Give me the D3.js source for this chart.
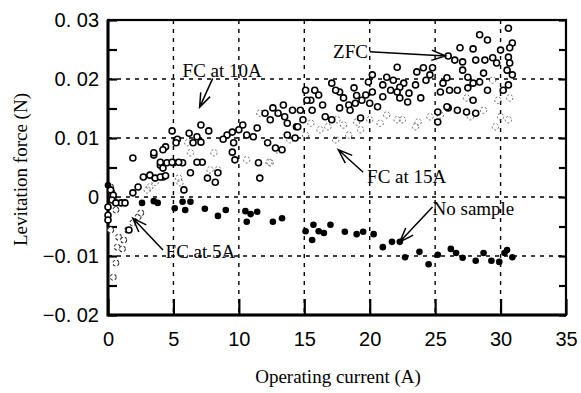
<!DOCTYPE html>
<html>
<head>
<meta charset="utf-8">
<script src="https://cdn.jsdelivr.net/npm/d3@7/dist/d3.min.js"></script>
<style>
  body { margin: 0; background: #fff; }
  .tick-label { font-family: "Liberation Sans", Arial, sans-serif; font-size: 20px; fill: #000; }
  .title { font-family: "Liberation Serif", "Times New Roman", serif; font-size: 19px; fill: #000; }
  .note { font-family: "Liberation Serif", "Times New Roman", serif; font-size: 19px; fill: #000; }
</style>
</head>
<body>
<svg id="chart" width="581" height="393"></svg>
<script>
// axis ticks
const xTicks = [0, 5, 10, 15, 20, 25, 30, 35];
const yTicks = [-0.02, -0.01, 0, 0.01, 0.02, 0.03];
const yMinor = [-0.015, -0.005, 0.005, 0.015, 0.025];

// [current (A), force (N)]
const zfc = [
  [30.6, 0.0286], [28.4, 0.0275], [29.0, 0.0266], [30.9, 0.0261], [30.7, 0.0253], [30.0, 0.0249],
  [27.9, 0.0251], [26.9, 0.0253], [26.0, 0.0239], [26.5, 0.0232], [27.1, 0.0229], [27.1, 0.0215],
  [27.5, 0.0203], [28.1, 0.0232], [28.8, 0.0232], [29.4, 0.0236], [29.7, 0.0227], [28.7, 0.0210],
  [28.4, 0.0195], [27.9, 0.0193], [29.0, 0.0181], [30.6, 0.0237], [30.7, 0.0227], [30.5, 0.0215],
  [30.9, 0.0207], [30.6, 0.0190], [30.2, 0.0181], [25.9, 0.0202], [25.6, 0.0193], [25.4, 0.0178],
  [26.1, 0.0181], [26.7, 0.0181], [27.5, 0.0185], [27.9, 0.0164], [24.8, 0.0219], [24.6, 0.0207],
  [24.1, 0.0219], [23.6, 0.0212], [23.5, 0.0190], [22.6, 0.0193], [22.3, 0.0186], [22.1, 0.0178],
  [21.8, 0.0198], [21.3, 0.0203], [21.6, 0.0181], [22.3, 0.0168], [22.1, 0.0220], [21.0, 0.0190],
  [20.2, 0.0207], [19.9, 0.0195], [20.2, 0.0178], [19.7, 0.0173], [19.4, 0.0164], [18.9, 0.0159],
  [18.4, 0.0156], [18.0, 0.0168], [17.7, 0.0178], [17.4, 0.0181], [17.1, 0.0193], [15.8, 0.0181],
  [15.5, 0.0164], [15.2, 0.0164], [16.6, 0.0136], [17.1, 0.0131], [17.7, 0.0151], [18.5, 0.0147],
  [19.3, 0.0134], [20.0, 0.0159], [20.6, 0.0153], [22.9, 0.0161], [23.9, 0.0168], [25.2, 0.0144],
  [26.0, 0.0151], [26.7, 0.0147], [27.4, 0.0144], [28.1, 0.0142], [25.2, 0.0127], [25.9, 0.0153],
  [14.7, 0.0147], [14.9, 0.0131], [14.5, 0.0119], [15.1, 0.0181], [16.1, 0.0173], [16.4, 0.0156],
  [15.6, 0.0147], [18.8, 0.0185], [19.0, 0.0172], [21.0, 0.0170], [23.0, 0.0176], [24.3, 0.0198]
];

const fc10 = [
  [0.2, 0.0012], [0.4, 0.0003], [0.3, -0.0005], [0.0, -0.0017], [0.0, -0.0031], [0.0, -0.0039],
  [1.0, -0.0010], [1.3, -0.0010], [0.6, -0.0010], [1.9, 0.0007], [2.3, 0.0017], [2.7, 0.0034],
  [3.2, 0.0037], [3.6, 0.0032], [4.2, 0.0034], [4.0, 0.0054], [4.5, 0.0058], [5.0, 0.0058],
  [5.7, 0.0058], [1.9, 0.0066], [3.5, 0.0071], [6.3, 0.0041], [5.8, 0.0012], [1.6, -0.0056],
  [7.1, 0.0122], [7.7, 0.0112], [4.9, 0.0112], [5.3, 0.0098], [5.2, 0.0092], [4.4, 0.0085],
  [4.2, 0.0080], [3.5, 0.0075], [4.0, 0.0059], [4.9, 0.0059], [5.4, 0.0059], [4.2, 0.0049],
  [4.0, 0.0034], [4.4, 0.0036], [6.2, 0.0108], [6.8, 0.0102], [7.1, 0.0093], [6.5, 0.0092],
  [7.2, 0.0059], [6.8, 0.0059], [7.6, 0.0032], [8.2, 0.0025], [8.4, 0.0041], [9.1, 0.0105],
  [9.5, 0.0110], [9.6, 0.0092], [9.5, 0.0076], [9.7, 0.0063], [10.3, 0.0122], [10.6, 0.0105],
  [11.1, 0.0102], [11.5, 0.0058], [11.6, 0.0032], [12.0, 0.0142], [12.6, 0.0151], [13.4, 0.0156],
  [13.5, 0.0136], [13.7, 0.0125], [12.8, 0.0083], [12.2, 0.0092], [14.3, 0.0100], [13.7, 0.0105],
  [13.3, 0.0080], [12.4, 0.0131], [13.0, 0.0142], [14.1, 0.0147], [14.4, 0.0119], [8.8, 0.0098],
  [10.0, 0.0114], [11.4, 0.0117]
];

const fc15 = [
  [27.4, 0.0168], [29.8, 0.0164], [28.7, 0.0147], [27.7, 0.0136], [30.0, 0.0136], [29.6, 0.0119],
  [25.4, 0.0139], [24.6, 0.0136], [23.7, 0.0127], [23.5, 0.0119], [22.5, 0.0131], [22.1, 0.0131],
  [21.3, 0.0139], [20.8, 0.0125], [20.0, 0.0131], [19.0, 0.0127], [18.0, 0.0122], [17.5, 0.0131],
  [16.8, 0.0119], [15.5, 0.0125], [30.7, 0.0168], [30.6, 0.0131], [29.4, 0.0198], [11.6, 0.0142],
  [12.3, 0.0059], [12.9, 0.0080], [12.4, 0.0058], [10.6, 0.0063], [8.1, 0.0075], [7.8, 0.0046],
  [8.4, 0.0046], [5.4, 0.0032], [5.5, 0.0024], [3.2, 0.0017], [3.0, 0.0012], [3.6, 0.0025],
  [6.3, 0.0075], [6.1, 0.0092], [13.9, 0.0097], [15.1, 0.0105], [16.2, 0.0114], [17.4, 0.0097],
  [18.4, 0.0105], [19.3, 0.0114]
];

const fc5 = [
  [0.2, 0.0017], [0.3, 0.0008], [0.6, -0.0022], [0.2, -0.0056], [0.8, -0.0068], [1.2, -0.0073],
  [0.7, -0.0085], [0.6, -0.0112], [0.4, -0.0136], [2.3, -0.0034], [2.5, -0.0027], [1.5, -0.0056],
  [1.9, -0.0044], [1.1, -0.0088]
];

const noSample = [
  [0.0, 0.0020], [2.6, -0.0010], [3.5, -0.0007], [3.8, -0.0010], [5.1, -0.0019], [5.7, -0.0008],
  [5.9, -0.0022], [6.3, -0.0008], [7.4, -0.0020], [8.4, -0.0032], [9.0, -0.0022], [10.5, -0.0024],
  [10.9, -0.0029], [11.4, -0.0025], [10.6, -0.0042], [12.6, -0.0042], [13.3, -0.0036], [15.1, -0.0058],
  [15.7, -0.0047], [16.1, -0.0058], [16.5, -0.0061], [17.0, -0.0047], [18.1, -0.0059], [15.6, -0.0073],
  [19.0, -0.0063], [19.5, -0.0059], [20.3, -0.0063], [21.0, -0.0085], [21.7, -0.0076], [22.3, -0.0076],
  [22.7, -0.0102], [23.8, -0.0093], [24.5, -0.0114], [25.2, -0.0098], [26.2, -0.0088], [26.6, -0.0095],
  [27.1, -0.0103], [28.1, -0.0108], [28.7, -0.0095], [29.3, -0.0108], [29.9, -0.0110], [30.3, -0.0095],
  [30.9, -0.0102], [30.5, -0.0090]
];

// annotations: label, text anchor point, arrow tail, arrow tip (data units)
const notes = [
  { label: "FC at 10A", at: [5.7, 0.0203], tail: [8.0, 0.0201], tip: [7.0, 0.0152] },
  { label: "ZFC", at: [17.2, 0.0236], tail: [20.0, 0.0246], tip: [25.8, 0.0239] },
  { label: "FC at 15A", at: [19.8, 0.0024], tail: [19.5, 0.0042], tip: [17.6, 0.0080] },
  { label: "No sample", at: [24.8, -0.0031], tail: [24.8, -0.0017], tip: [22.3, -0.0076] },
  { label: "FC at 5A", at: [4.4, -0.0103], tail: [4.2, -0.0090], tip: [1.9, -0.0036] }
];

const svg = d3.select("#chart");
const mLeft = 108, mRight = 566, mTop = 20, mBottom = 315;

const x = d3.scaleLinear().domain([0, 35]).range([mLeft, mRight]);
const y = d3.scaleLinear().domain([-0.02, 0.03]).range([mBottom, mTop]);

// dashed grid
svg.append("g")
  .selectAll("line")
  .data(xTicks.slice(1, -1))
  .enter().append("line")
  .attr("x1", d => x(d)).attr("x2", d => x(d))
  .attr("y1", mTop).attr("y2", mBottom)
  .attr("stroke", "#000").attr("stroke-width", 1.4).attr("stroke-dasharray", "4,5");

svg.append("g")
  .selectAll("line")
  .data(yTicks.slice(1, -1))
  .enter().append("line")
  .attr("x1", mLeft).attr("x2", mRight)
  .attr("y1", d => y(d)).attr("y2", d => y(d))
  .attr("stroke", "#000").attr("stroke-width", 1.4).attr("stroke-dasharray", "4,5");

// axes with inward ticks
const fmtY = d => d === 0 ? "0" : d3.format(".2f")(d).replace(".", ". ").replace("-", "\u2212");

const yAxisL = svg.append("g")
  .attr("transform", `translate(${mLeft},0)`)
  .call(d3.axisLeft(y).tickValues(yTicks.concat(yMinor)).tickSize(-9).tickPadding(9)
    .tickFormat(d => yTicks.includes(d) ? fmtY(d) : ""));
yAxisL.select(".domain").remove();
yAxisL.selectAll(".tick line").attr("stroke-width", 2.2);
yAxisL.selectAll(".tick text").attr("class", "tick-label");
yAxisL.attr("font-size", null).attr("font-family", null);

const yAxisR = svg.append("g")
  .attr("transform", `translate(${mRight},0)`)
  .call(d3.axisRight(y).tickValues(yTicks.concat(yMinor)).tickSize(-7).tickFormat(""));
yAxisR.select(".domain").remove();
yAxisR.selectAll(".tick line").attr("stroke-width", 2.2);

const xAxis = svg.append("g")
  .attr("transform", `translate(0,${mBottom})`)
  .call(d3.axisBottom(x).tickValues(xTicks).tickSize(-16).tickPadding(17));
xAxis.select(".domain").remove();
xAxis.selectAll(".tick line").attr("stroke-width", 2.2);
xAxis.selectAll(".tick text").attr("class", "tick-label");
xAxis.attr("font-size", null).attr("font-family", null);

// frame
svg.append("rect")
  .attr("x", mLeft).attr("y", mTop)
  .attr("width", mRight - mLeft).attr("height", mBottom - mTop)
  .attr("fill", "none").attr("stroke", "#000").attr("stroke-width", 2.2);
svg.append("path")
  .attr("d", `M${mLeft},${mTop}V${mBottom}H${mRight}`)
  .attr("fill", "none").attr("stroke", "#000").attr("stroke-width", 3);

// points
const plot = svg.append("g");

plot.selectAll(".fc15")
  .data(fc15).enter().append("circle")
  .attr("cx", d => x(d[0])).attr("cy", d => y(d[1])).attr("r", 3.2)
  .attr("fill", "none").attr("stroke", "#666").attr("stroke-width", 1).attr("stroke-dasharray", "2,2");

plot.selectAll(".fc5")
  .data(fc5).enter().append("circle")
  .attr("cx", d => x(d[0])).attr("cy", d => y(d[1])).attr("r", 3)
  .attr("fill", "#fff").attr("stroke", "#333").attr("stroke-width", 1.1).attr("stroke-dasharray", "3,2");

plot.selectAll(".open")
  .data(fc10.concat(zfc)).enter().append("circle")
  .attr("cx", d => x(d[0])).attr("cy", d => y(d[1])).attr("r", 3)
  .attr("fill", "#fff").attr("stroke", "#000").attr("stroke-width", 1.6);

plot.selectAll(".none")
  .data(noSample).enter().append("circle")
  .attr("cx", d => x(d[0])).attr("cy", d => y(d[1])).attr("r", 3.3)
  .attr("fill", "#000");

// annotations
const ann = svg.append("g");
notes.forEach(n => {
  const x1 = x(n.tail[0]), y1 = y(n.tail[1]);
  const x2 = x(n.tip[0]), y2 = y(n.tip[1]);
  const a = Math.atan2(y2 - y1, x2 - x1);
  const L = 15, w = 0.35;
  ann.append("path")
    .attr("d", `M${x1},${y1}L${x2},${y2}` +
      `M${x2 - L * Math.cos(a - w)},${y2 - L * Math.sin(a - w)}L${x2},${y2}` +
      `L${x2 - L * Math.cos(a + w)},${y2 - L * Math.sin(a + w)}`)
    .attr("fill", "none").attr("stroke", "#000").attr("stroke-width", 1.5);
  ann.append("text")
    .attr("class", "note")
    .attr("x", x(n.at[0])).attr("y", y(n.at[1]))
    .text(n.label);
});

// axis titles
svg.append("text")
  .attr("class", "title")
  .attr("text-anchor", "middle")
  .attr("transform", `translate(27,${(mTop + mBottom) / 2 + 2}) rotate(-90)`)
  .text("Levitation force  (N)");

svg.append("text")
  .attr("class", "title")
  .attr("text-anchor", "middle")
  .attr("x", (mLeft + mRight) / 2 + 1).attr("y", 383)
  .text("Operating current  (A)");
</script>
</body>
</html>
